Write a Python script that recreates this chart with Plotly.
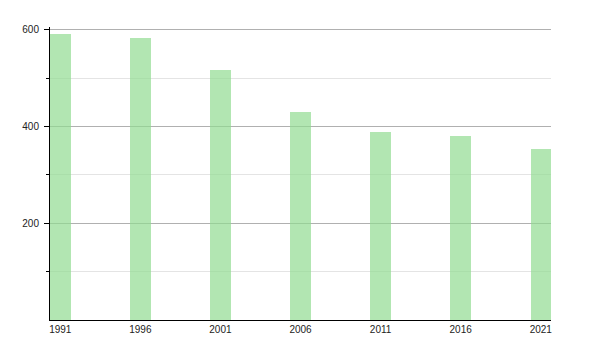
import plotly.graph_objects as go

years = ["1991", "1996", "2001", "2006", "2011", "2016", "2021"]
population = [592, 584, 518, 431, 389, 381, 354]
y_ticks = [200, 400, 600]
y_minor = [100, 300, 500]

fig = go.Figure()
fig.add_trace(go.Bar(
    x=list(range(len(years))),
    y=population,
    width=0.256,
    marker=dict(color="rgba(146,219,146,0.7)", line=dict(width=0)),
    hoverinfo="skip",
))

fig.update_layout(
    width=600, height=350,
    margin=dict(l=50, r=49, t=27, b=30),
    paper_bgcolor="white", plot_bgcolor="white",
    showlegend=False,
    font=dict(family="Liberation Sans, Arial, sans-serif", size=10, color="#222"),
    bargap=0,
)
fig.update_xaxes(
    range=[-0.128, 6.128],
    tickmode="array", tickvals=list(range(len(years))), ticktext=years,
    showgrid=False, zeroline=False,
    showline=True, linecolor="black", linewidth=1,
    ticks="", ticklen=0,
    fixedrange=True,
)
fig.update_yaxes(
    range=[0, 606],
    tickmode="array", tickvals=y_ticks,
    showgrid=True, gridcolor="#b0b0b0", gridwidth=1,
    zeroline=False,
    showline=True, linecolor="black", linewidth=1,
    ticks="outside", ticklen=5, tickcolor="black",
    ticklabelstandoff=3,
    minor=dict(tickvals=y_minor, ticks="outside", ticklen=3, tickcolor="black",
               showgrid=True, gridcolor="#e4e4e4", gridwidth=1),
    fixedrange=True,
)

fig.write_html("out.html")
